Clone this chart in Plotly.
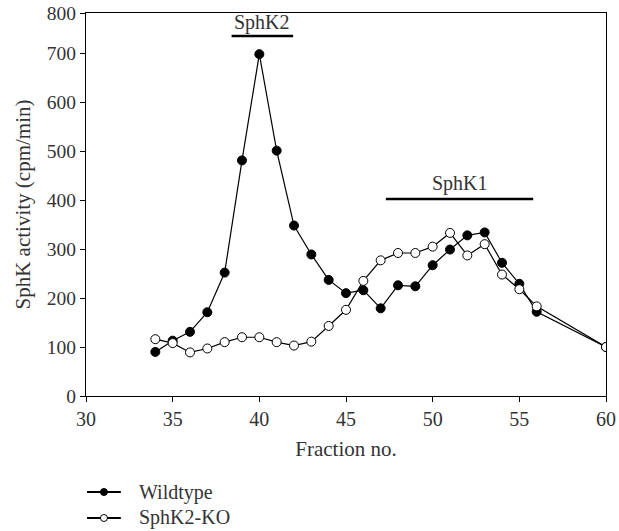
import plotly.graph_objects as go

fractions = [34, 35, 36, 37, 38, 39, 40, 41, 42, 43, 44, 45, 46, 47, 48, 49, 50, 51, 52, 53, 54, 55, 56, 60]
wildtype = [90, 113, 131, 171, 252, 481, 698, 501, 348, 289, 237, 210, 216, 179, 226, 224, 267, 299, 328, 334, 272, 229, 172, 100]
sphk2_ko = [116, 108, 89, 97, 110, 120, 120, 110, 103, 111, 143, 176, 235, 277, 292, 292, 305, 333, 287, 310, 248, 218, 183, 100]
series_names = ["Wildtype", "SphK2-KO"]
marker_fills = ["black", "white"]

x_ticks = [30, 35, 40, 45, 50, 55, 60]
y_ticks = [0, 100, 200, 300, 400, 500, 600, 700, 782]
y_ticktext = ["0", "100", "200", "300", "400", "500", "600", "700", "800"]

FONT = "Liberation Serif"
TXT = "#333333"

fig = go.Figure()
for name, vals, fill in zip(series_names, [wildtype, sphk2_ko], marker_fills):
    fig.add_trace(go.Scatter(
        x=fractions, y=vals, mode="lines+markers", name=name,
        line=dict(color="black", width=1.2),
        marker=dict(symbol="circle", size=9, color=fill, line=dict(color="black", width=1)),
        showlegend=False,
    ))

# bars marking the enzyme peaks
fig.add_shape(type="line", x0=38.4, x1=41.95, y0=735, y1=735, xref="x", yref="y",
              line=dict(color="black", width=2.5))
fig.add_shape(type="line", x0=47.3, x1=55.8, y0=402, y1=402, xref="x", yref="y",
              line=dict(color="black", width=2.5))
fig.add_annotation(x=40.15, y=735, text="SphK2", showarrow=False, yanchor="bottom",
                   yshift=0, font=dict(family=FONT, size=20, color=TXT))
fig.add_annotation(x=51.55, y=402, text="SphK1", showarrow=False, yanchor="bottom",
                   yshift=2, font=dict(family=FONT, size=20, color=TXT))

# legend below the plot, drawn as paper-anchored symbols + text
legend_rows = [-0.2507, -0.3185]
for name, fill, ly in zip(series_names, marker_fills, legend_rows):
    fig.add_shape(type="line", xref="paper", yref="paper", x0=0.002, x1=0.067, y0=ly, y1=ly,
                  line=dict(color="black", width=2))
    fig.add_shape(type="circle", xref="paper", yref="paper",
                  xsizemode="pixel", ysizemode="pixel", xanchor=0.0345, yanchor=ly,
                  x0=-3.5, x1=3.5, y0=-3.5, y1=3.5,
                  fillcolor=fill, line=dict(color="black", width=1))
    fig.add_annotation(xref="paper", yref="paper", x=0.098, y=ly, text=name,
                       showarrow=False, xanchor="left", yanchor="middle",
                       font=dict(family=FONT, size=20, color=TXT))

fig.update_layout(
    width=619, height=531,
    margin=dict(l=86, r=13, t=13, b=135),
    paper_bgcolor="white", plot_bgcolor="white",
    showlegend=False,
    font=dict(family=FONT, size=20, color=TXT),
    xaxis=dict(range=[30, 60], tickvals=x_ticks, automargin=False,
               showgrid=False, zeroline=False, showline=True, mirror=True,
               linecolor="black", linewidth=1.3, ticks="outside", ticklen=5,
               tickcolor="black", tickfont=dict(size=20),
               title=dict(text="Fraction no.", standoff=12, font=dict(size=21))),
    yaxis=dict(range=[0, 782], tickvals=y_ticks, ticktext=y_ticktext, automargin=False,
               showgrid=False, zeroline=False, showline=True, mirror=True,
               linecolor="black", linewidth=1.3, ticks="outside", ticklen=5,
               tickcolor="black", tickfont=dict(size=19.5),
               title=dict(text="SphK activity (cpm/min)", standoff=10, font=dict(size=21))),
)

fig.write_html("out.html", config={"displayModeBar": False},
               post_script="document.body.style.margin='0';")
